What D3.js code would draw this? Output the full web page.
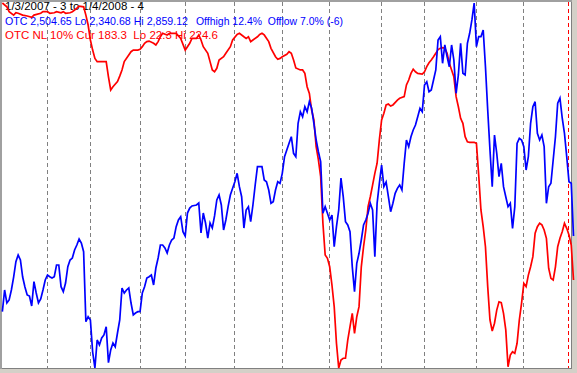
<!DOCTYPE html>
<html>
<head>
<meta charset="utf-8">
<script src="https://cdn.jsdelivr.net/npm/d3@7"></script>
<style>
  body { margin: 0; background: #d4d0c8; }
  svg { display: block; }
  text { font-family: "Liberation Sans", Arial, sans-serif; font-size: 11px; white-space: pre; }
</style>
</head>
<body>
<div id="chart"></div>
<script>
// trading days from 1/3/2007 (day 0) to 1/4/2008 (day 253)
var lastDay = 253;
// first trading day of each month, Feb 2007 .. Dec 2007
var monthStarts = [20, 39, 61, 81, 103, 124, 145, 168, 187, 210, 231];
// first trading day of 2008
var yearStarts = [251];

// OTC composite close, one value per trading day
var otcClose = [
  2420.7, 2451.5, 2433.0, 2437.3, 2451.5, 2469.9, 2491.7, 2501.2, 2494.1, 2469.9,
  2455.7, 2444.4, 2442.9, 2428.7, 2463.3, 2447.2, 2433.0, 2438.7, 2451.5, 2465.7,
  2472.8, 2470.4, 2468.5, 2470.4, 2487.0, 2487.0, 2456.2, 2449.1, 2461.4, 2484.6,
  2494.1, 2496.9, 2508.3, 2515.4, 2523.9, 2518.2, 2505.9, 2406.4, 2413.5, 2408.9,
  2363.4, 2340.7, 2380.5, 2373.4, 2383.3, 2387.6, 2399.3, 2348.2, 2366.3, 2376.2,
  2370.9, 2390.4, 2408.9, 2454.3, 2447.2, 2451.5, 2454.3, 2433.0, 2416.0, 2418.8,
  2420.7, 2420.7, 2447.2, 2456.2, 2468.5, 2470.4, 2472.8, 2458.6, 2482.7, 2496.9,
  2515.4, 2515.4, 2511.1, 2504.0, 2515.4, 2522.5, 2525.3, 2541.4, 2550.9, 2555.6,
  2534.3, 2528.2, 2560.8, 2567.9, 2570.8, 2571.5, 2572.2, 2575.0, 2532.4, 2560.8,
  2546.6, 2525.3, 2546.6, 2539.5, 2556.6, 2579.3, 2586.4, 2572.2, 2536.7, 2550.9,
  2569.8, 2586.4, 2595.9, 2605.3, 2617.2, 2598.2, 2584.0, 2539.5, 2565.1, 2569.8,
  2548.5, 2572.2, 2600.6, 2626.6, 2626.6, 2626.6, 2607.7, 2605.3, 2593.5, 2574.6,
  2576.9, 2593.5, 2605.3, 2603.0, 2617.2, 2640.8, 2650.3, 2659.8, 2669.2, 2645.6,
  2640.8, 2688.3, 2704.7, 2697.6, 2711.8, 2704.7, 2718.9, 2709.6, 2688.3, 2664.5,
  2647.9, 2633.7, 2560.4, 2569.8, 2560.4, 2550.9, 2558.0, 2513.0, 2541.4, 2565.1,
  2610.5, 2584.0, 2548.5, 2543.8, 2534.3, 2484.6, 2449.1, 2489.4, 2503.6, 2522.5,
  2543.8, 2550.9, 2560.4, 2574.6, 2565.1, 2498.8, 2574.6, 2603.0, 2629.0, 2598.2,
  2604.9, 2584.0, 2562.7, 2574.6, 2588.8, 2595.9, 2600.6, 2593.5, 2631.4, 2664.5,
  2655.0, 2669.2, 2678.7, 2685.8, 2697.6, 2709.6, 2704.7, 2742.6, 2747.3, 2733.1,
  2735.6, 2749.8, 2764.0, 2806.6, 2811.3, 2773.5, 2799.5, 2782.9, 2768.6, 2799.5,
  2778.2, 2730.9, 2756.9, 2801.9, 2759.3, 2756.9, 2801.9, 2816.1, 2835.0, 2859.1,
  2797.1, 2811.3, 2811.3, 2820.8, 2768.6, 2707.1, 2650.3, 2598.2, 2671.6, 2645.6,
  2612.4, 2631.4, 2598.2, 2584.0, 2569.8, 2574.6, 2539.1, 2569.8, 2659.8, 2666.9,
  2664.5, 2655.0, 2621.9, 2640.8, 2688.3, 2711.8, 2718.9, 2674.0, 2664.5, 2671.6,
  2655.0, 2574.6, 2598.2, 2603.0, 2636.1, 2669.2, 2716.7, 2723.8, 2695.8, 2674.0,
  2640.8, 2605.3, 2603.0, 2528.2
];

// OTC NL 10% indicator, read at these trading days
var nlDay = [
  0, 2, 3, 5, 6, 7, 9, 11, 13, 14, 17, 18, 20, 21, 23, 24, 26, 27, 28, 30,
  31, 33, 34, 36, 37, 38, 39, 40, 41, 42, 44, 46, 47, 48, 49, 51, 52, 53, 54, 56,
  57, 58, 60, 61, 62, 63, 64, 65, 67, 68, 69, 70, 71, 73, 74, 76, 77, 79, 81, 82,
  83, 84, 86, 87, 88, 89, 91, 92, 93, 94, 95, 96, 98, 99, 101, 102, 104, 105, 107, 108,
  109, 110, 111, 113, 114, 115, 116, 118, 119, 121, 122, 123, 124, 126, 127, 128, 129, 130, 132, 133,
  134, 135, 136, 137, 138, 139, 140, 141, 142, 143, 144, 145, 146, 147, 148, 149, 150, 151, 152, 153,
  154, 155, 156, 157, 158, 159, 160, 161, 162, 163, 164, 165, 166, 167, 168, 169, 170, 171, 172, 173,
  175, 176, 178, 179, 180, 181, 182, 183, 184, 186, 187, 188, 189, 190, 191, 192, 193, 194, 195, 196,
  197, 198, 199, 200, 201, 202, 203, 204, 205, 206, 207, 209, 210, 211, 212, 213, 214, 215, 216, 217,
  218, 219, 220, 221, 222, 223, 224, 225, 226, 227, 228, 229, 230, 231, 232, 233, 234, 235, 236, 237,
  238, 239, 240, 241, 242, 243, 244, 245, 246, 247, 248, 249, 250, 251, 252, 253
];
var nlValue = [
  224.6, 222.5, 219.8, 217.9, 219.2, 218.9, 217.9, 217.4, 216.7, 217.9, 218.9, 219.8, 219.8, 218.9, 219.2, 219.8, 219.2, 219.8, 218.9, 219.2,
  219.8, 221.7, 222.9, 222.5, 217.9, 212.4, 204.1, 198.5, 193.9, 192.1, 192.1, 192.1, 183.7, 176.4, 178.2, 181.0, 184.1, 187.5, 192.1, 195.8,
  197.6, 198.5, 198.5, 198.9, 200.4, 202.3, 203.2, 203.5, 202.3, 201.3, 203.2, 205.9, 207.8, 206.9, 207.8, 207.8, 207.8, 205.0, 198.5, 200.4,
  202.3, 205.0, 205.0, 206.9, 204.1, 200.4, 196.7, 192.1, 187.5, 186.5, 188.4, 193.0, 194.8, 196.7, 200.4, 204.1, 207.2, 207.8, 205.9, 205.0,
  205.9, 203.2, 204.1, 205.9, 207.2, 207.8, 206.9, 203.2, 199.5, 194.8, 193.4, 193.9, 194.8, 196.2, 197.6, 196.7, 193.0, 188.6, 187.5, 187.5,
  185.6, 178.2, 174.5, 165.3, 159.8, 145.0, 137.6, 128.3, 102.5, 84.9, 83.1, 78.4, 68.3, 56.3, 36.0, 22.3, 26.7, 27.7, 27.7, 37.8,
  45.2, 52.6, 41.5, 50.7, 56.3, 78.4, 89.5, 98.8, 111.7, 117.2, 123.7, 130.2, 135.8, 148.7, 159.8, 163.5, 168.1, 168.6, 167.5, 168.1,
  170.8, 171.8, 172.7, 179.2, 181.9, 185.6, 187.9, 186.5, 185.6, 185.2, 186.5, 189.3, 191.5, 193.0, 194.8, 196.7, 198.8, 199.5, 199.8, 199.5,
  196.7, 191.2, 187.5, 183.7, 172.7, 167.1, 160.7, 157.9, 150.5, 147.7, 147.4, 147.4, 146.8, 129.3, 109.9, 100.6, 89.5, 67.4, 48.9, 42.8,
  47.1, 54.4, 59.0, 58.5, 52.6, 43.4, 23.0, 29.5, 31.3, 30.4, 36.0, 48.9, 58.2, 69.2, 67.4, 73.8, 78.4, 84.0, 97.0, 100.6,
  102.5, 101.6, 98.8, 94.2, 77.6, 72.0, 71.1, 78.4, 89.5, 94.2, 97.8, 102.5, 99.7, 96.0, 90.5, 71.1
];

var otcRange = [2340.68, 2859.12];
var nlRange = [22.3, 224.6];

var titleText = "1/3/2007 - 3 to 1/4/2008 - 4";
var otcText = "OTC 2,504.65 Lo 2,340.68 Hi 2,859.12";
var offText = "Offhigh 12.4%  Offlow 7.0% (-6)";
var nlText = "OTC NL 10% Cur 183.3  Lo 22.3 Hi 224.6";

var W = 577, H = 373;

var svg = d3.select("#chart").append("svg")
    .attr("width", W)
    .attr("height", H);

// window frame
svg.append("rect").attr("width", W).attr("height", H).attr("fill", "#d4d0c8");
svg.append("rect").attr("x", 0).attr("y", 0).attr("width", 572).attr("height", 369).attr("fill", "#a0a0a0");
svg.append("rect").attr("x", 2).attr("y", 2).attr("width", 570).attr("height", 367).attr("fill", "#808080");
svg.append("rect").attr("x", 2).attr("y", 2).attr("width", 569).attr("height", 366).attr("fill", "#ffffff");

var x = d3.scaleLinear().domain([0, lastDay]).range([2.35, 573.5]);
var yOtc = d3.scaleLinear().domain(otcRange).range([368, 3]);
var yNl = d3.scaleLinear().domain(nlRange).range([368, 3]);

function snap(v) { return Math.floor(v) + 0.5; }

// month separators
svg.selectAll(".month").data(monthStarts).enter().append("line")
    .attr("class", "month")
    .attr("x1", function(d) { return snap(x(d)); })
    .attr("x2", function(d) { return snap(x(d)); })
    .attr("y1", 2).attr("y2", 368)
    .attr("stroke", "#808080")
    .attr("stroke-dasharray", "4,3");

svg.selectAll(".year").data(yearStarts).enter().append("line")
    .attr("class", "year")
    .attr("x1", function(d) { return snap(x(d)); })
    .attr("x2", function(d) { return snap(x(d)); })
    .attr("y1", 2).attr("y2", 368)
    .attr("stroke", "#ff0000")
    .attr("stroke-dasharray", "4,3");

// header
svg.append("text").attr("x", 5).attr("y", 10).attr("fill", "#000000")
    .attr("textLength", 139).attr("lengthAdjust", "spacingAndGlyphs").text(titleText);
svg.append("text").attr("x", 5).attr("y", 25).attr("fill", "#0000ff")
    .attr("textLength", 183).attr("lengthAdjust", "spacingAndGlyphs").text(otcText);
svg.append("text").attr("x", 196).attr("y", 25).attr("fill", "#0000ff")
    .attr("textLength", 147).attr("lengthAdjust", "spacingAndGlyphs").text(offText);
svg.append("text").attr("x", 5).attr("y", 38.5).attr("fill", "#ff0000")
    .attr("textLength", 213).attr("lengthAdjust", "spacingAndGlyphs").text(nlText);

var nlLine = d3.line()
    .x(function(d, i) { return x(nlDay[i]); })
    .y(function(d) { return yNl(d); });

var otcLine = d3.line()
    .x(function(d, i) { return x(i); })
    .y(function(d) { return yOtc(d); });

svg.append("path")
    .datum(nlValue)
    .attr("d", nlLine)
    .attr("fill", "none")
    .attr("stroke", "#ff0000")
    .attr("stroke-width", 1.7);

svg.append("path")
    .datum(otcClose)
    .attr("d", otcLine)
    .attr("fill", "none")
    .attr("stroke", "#0000ff")
    .attr("stroke-width", 1.7);
</script>
</body>
</html>
